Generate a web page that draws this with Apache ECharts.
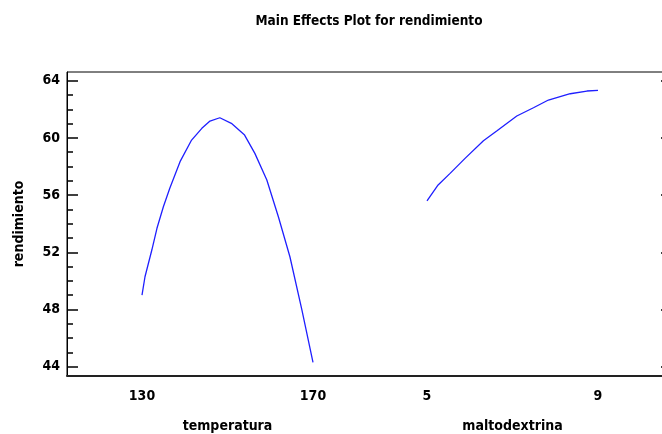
<!DOCTYPE html>
<html>
<head>
<meta charset="utf-8">
<script src="https://cdn.jsdelivr.net/npm/echarts@6/dist/echarts.min.js"></script>
<style>html,body{margin:0;padding:0;background:#fff}#c{width:662px;height:434px}</style>
</head>
<body>
<div id="c"></div>
<script>
const titleText = 'Main Effects Plot for rendimiento';
const yName = 'rendimiento';
const tempName = 'temperatura';
const maltoName = 'maltodextrina';
const tempTicks = [130, 170];
const maltoTicks = [5, 9];
const yMajorTicks = [44, 48, 52, 56, 60, 64];
const yMinorTicks = [45, 46, 47, 49, 50, 51, 53, 54, 55, 57, 58, 59, 61, 62, 63];
const tempX = [130, 130.7, 132.3, 133.5, 135.0, 136.5, 138.9, 141.6, 144.0, 145.9, 148.2, 150.9, 154.0, 156.4, 159.2, 161.9, 164.6, 167.4, 170];
const tempY = [49.0, 50.29, 52.16, 53.68, 55.19, 56.48, 58.34, 59.85, 60.67, 61.18, 61.41, 61.02, 60.20, 58.92, 57.06, 54.49, 51.69, 47.97, 44.31];
const maltoX = [5, 5.26, 5.54, 5.89, 6.32, 6.63, 7.10, 7.49, 7.84, 8.35, 8.74, 9];
const maltoY = [55.59, 56.71, 57.52, 58.57, 59.80, 60.48, 61.53, 62.11, 62.65, 63.09, 63.28, 63.33];

const Y_MIN = 43.35, Y_MAX = 64.61;
const FONT = '"Liberation Sans Narrow", "DejaVu Sans Condensed", "Liberation Sans", Arial, sans-serif';
const txt = {color: '#000', fontFamily: FONT, fontWeight: 'bold', fontSize: 14};

const chart = echarts.init(document.getElementById('c'), null, {renderer: 'canvas'});
const hiddenY = (gi) => ({type: 'value', gridIndex: gi, min: Y_MIN, max: Y_MAX, show: false});
chart.setOption({
  animation: false,
  backgroundColor: '#fff',
  title: {text: titleText, left: 364, top: 9, textAlign: 'center',
    textStyle: Object.assign({}, txt, {fontSize: 13.5})},
  grid: [
    {left: 67, right: -5, top: 72, bottom: 58, outerBoundsMode: 'none', containLabel: false,
      show: true, borderColor: '#000', borderWidth: 1, backgroundColor: 'transparent'},
    {left: 142, width: 171, top: 72, bottom: 58, outerBoundsMode: 'none', containLabel: false},
    {left: 427, width: 171, top: 72, bottom: 58, outerBoundsMode: 'none', containLabel: false}
  ],
  xAxis: [
    {type: 'value', gridIndex: 0, min: 0, max: 1, axisLine: {show: true, lineStyle: {color: '#222', width: 2}},
      axisTick: {show: false}, axisLabel: {show: false}, splitLine: {show: false}},
    {type: 'value', gridIndex: 1, min: 130, max: 170, axisLine: {show: false}, axisTick: {show: false}, splitLine: {show: false},
      axisLabel: Object.assign({customValues: tempTicks, margin: 13}, txt),
      name: tempName, nameLocation: 'middle', nameGap: 43, nameTextStyle: txt},
    {type: 'value', gridIndex: 2, min: 5, max: 9, axisLine: {show: false}, axisTick: {show: false}, splitLine: {show: false},
      axisLabel: Object.assign({customValues: maltoTicks, margin: 13}, txt),
      name: maltoName, nameLocation: 'middle', nameGap: 43, nameTextStyle: txt}
  ],
  yAxis: [
    {type: 'value', gridIndex: 0, min: Y_MIN, max: Y_MAX, position: 'left',
      axisLine: {show: true, lineStyle: {color: '#000', width: 1}},
      axisTick: {show: true, inside: true, length: 11, customValues: yMajorTicks, lineStyle: {color: '#000', width: 1.5}},
      axisLabel: Object.assign({customValues: yMajorTicks, margin: 7}, txt),
      splitLine: {show: false},
      name: yName, nameLocation: 'middle', nameGap: 41, nameTextStyle: txt},
    {type: 'value', gridIndex: 0, min: Y_MIN, max: Y_MAX, position: 'left', offset: 0,
      axisLine: {show: false}, axisLabel: {show: false}, splitLine: {show: false},
      axisTick: {show: true, inside: true, length: 6, customValues: yMinorTicks, lineStyle: {color: '#000', width: 1.5}}},
    {type: 'value', gridIndex: 0, min: Y_MIN, max: Y_MAX, position: 'right',
      axisLine: {show: true, lineStyle: {color: '#000', width: 1}}, axisLabel: {show: false}, splitLine: {show: false},
      axisTick: {show: true, inside: true, length: 6, customValues: yMajorTicks, lineStyle: {color: '#000', width: 1.5}}},
    hiddenY(1), hiddenY(2)
  ],
  series: [
    {type: 'line', xAxisIndex: 1, yAxisIndex: 3, showSymbol: false, symbol: 'none',
      lineStyle: {color: '#1f1fff', width: 1.3}, data: tempX.map((x, i) => [x, tempY[i]])},
    {type: 'line', xAxisIndex: 2, yAxisIndex: 4, showSymbol: false, symbol: 'none',
      lineStyle: {color: '#1f1fff', width: 1.3}, data: maltoX.map((x, i) => [x, maltoY[i]])}
  ]
});
</script>
</body>
</html>
